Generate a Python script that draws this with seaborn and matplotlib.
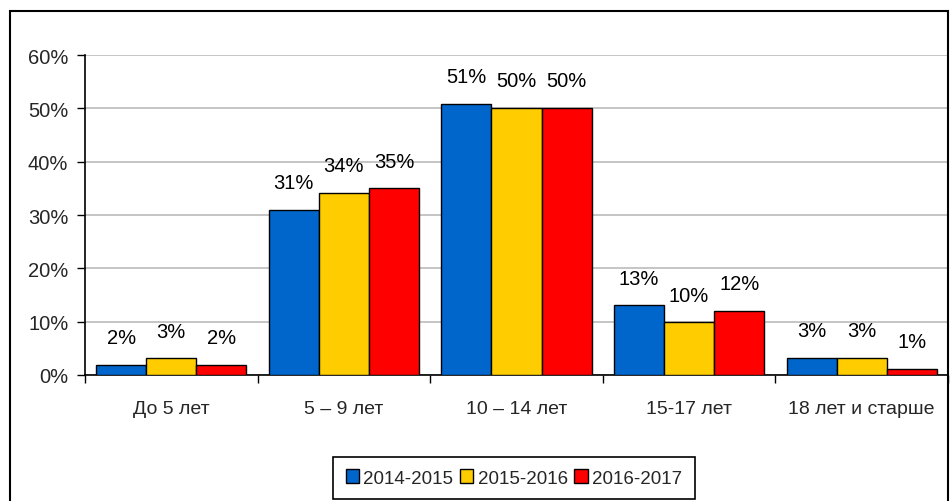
import matplotlib
matplotlib.use("Agg")
import matplotlib.pyplot as plt
from matplotlib.patches import Rectangle
from matplotlib.ticker import FixedLocator
import seaborn as sns
import pandas as pd

categories = ["До 5 лет", "5 – 9 лет", "10 – 14 лет", "15-17 лет", "18 лет и старше"]
years = ["2014-2015", "2015-2016", "2016-2017"]
share_2014 = [1.9, 31.0, 50.9, 13.1, 3.2]
share_2015 = [3.1, 34.2, 50.1, 9.9, 3.2]
share_2016 = [1.9, 35.0, 50.1, 12.0, 1.2]
y_ticks = [0, 10, 20, 30, 40, 50, 60]

colors = ["#0066CC", "#FFCC00", "#FF0000"]

rows = []
for year, vals in zip(years, [share_2014, share_2015, share_2016]):
    for cat, v in zip(categories, vals):
        rows.append({"cat": cat, "year": year, "value": v})
df = pd.DataFrame(rows)

sns.set_theme(style="white")
plt.rcParams["font.family"] = ["Liberation Sans", "DejaVu Sans"]

fig = plt.figure(figsize=(9.52, 5.02), dpi=100)
ax = fig.add_axes([85 / 952, 126 / 502, 863 / 952, 320 / 502])

sns.barplot(data=df, x="cat", y="value", hue="year", order=categories,
            hue_order=years, palette=colors, width=0.87, saturation=1,
            edgecolor="black", linewidth=1, ax=ax, zorder=3)

# value labels above bars
for container in ax.containers:
    for bar in container:
        h = bar.get_height()
        ax.annotate(f"{round(h):d}%", (bar.get_x() + bar.get_width() / 2, h),
                    xytext=(0, 19.5), textcoords="offset points",
                    ha="center", va="center", fontsize=14.5, color="black")

ax.set_ylim(0, 60)
ax.set_xlim(-0.5, len(categories) - 0.5)
ax.set_yticks(y_ticks)
ax.set_yticklabels([f"{t}%" for t in y_ticks], fontsize=14.5)
ax.yaxis.grid(True, color="#C0C0C0", linewidth=1.3, zorder=0)
ax.set_axisbelow(True)

ax.set_xticks(range(len(categories)))
ax.set_xticklabels(categories, fontsize=14)
ax.xaxis.set_minor_locator(FixedLocator([i - 0.5 for i in range(len(categories) + 1)]))
ax.tick_params(axis="x", which="major", length=0, pad=18)
ax.tick_params(axis="x", which="minor", length=6, width=1, color="black", bottom=True)
ax.tick_params(axis="y", which="major", length=6, width=1, color="black", left=True, pad=6)

ax.set_xlabel("")
ax.set_ylabel("")
for side in ["top", "right"]:
    ax.spines[side].set_visible(False)
for side in ["left", "bottom"]:
    ax.spines[side].set_color("black")
    ax.spines[side].set_linewidth(1.2)

leg = ax.legend(loc="center", bbox_to_anchor=(514 / 952, 23 / 502),
                bbox_transform=fig.transFigure, ncol=3, fontsize=13.5,
                handlelength=0.7, handleheight=0.7, handletextpad=0.25,
                columnspacing=0.35, borderpad=0.65, fancybox=False,
                edgecolor="black", framealpha=1)
leg.get_frame().set_linewidth(1.2)
for h in leg.legend_handles:
    h.set_edgecolor("black")
    h.set_linewidth(1)

# outer chart frame
fig.patches.append(Rectangle((10 / 952, -0.02), 938 / 952, 1.0 - 12 / 502 + 0.02,
                             transform=fig.transFigure, fill=False,
                             edgecolor="black", linewidth=1.5))

fig.savefig("out.png", dpi=100, facecolor="white")
